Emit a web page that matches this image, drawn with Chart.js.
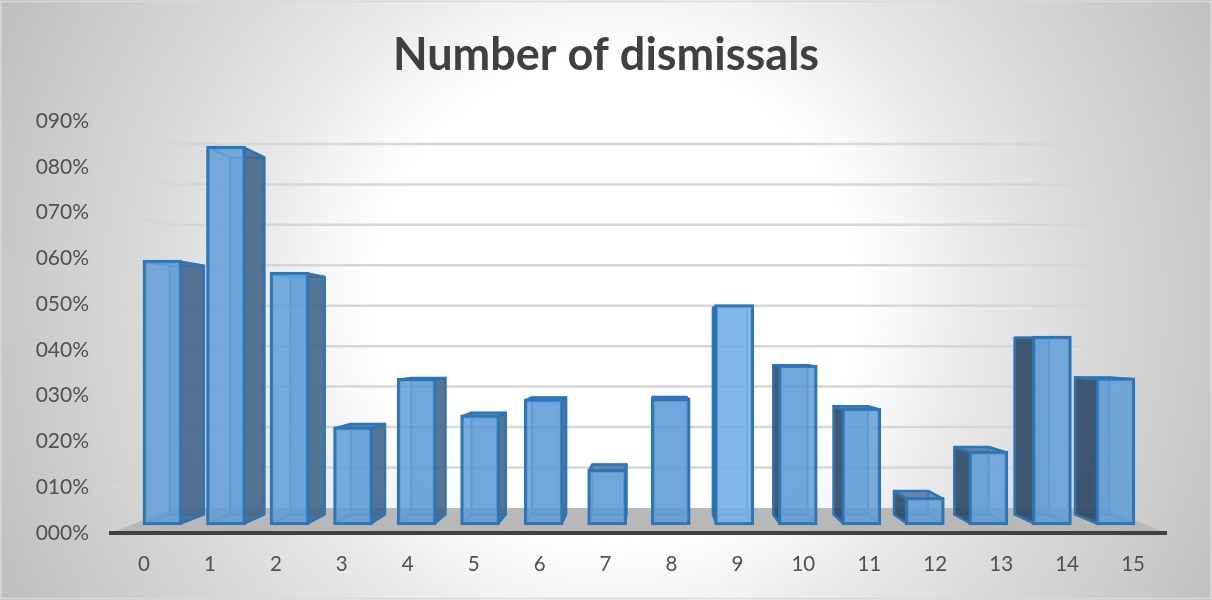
<!DOCTYPE html>
<html>
<head>
<meta charset="utf-8">
<title>Number of dismissals</title>
<script src="https://cdn.jsdelivr.net/npm/chart.js@4"></script>
<style>
  html, body { margin: 0; padding: 0; background: #fff; }
  canvas { display: block; }
</style>
</head>
<body>
<canvas id="barChart" width="1212" height="600"></canvas>
<script>
const categories = ['0','1','2','3','4','5','6','7','8','9','10','11','12','13','14','15'];
const dismissals = [59.6,84.5,57.0,23.2,33.8,25.8,29.3,13.9,29.4,49.9,36.7,27.3,7.8,17.9,43.0,33.9];
const yTickLabels = ['000%','010%','020%','030%','040%','050%','060%','070%','080%','090%'];

// the bars stand a little way back on the floor, so they start above the axis line
const floorValue = 1.75;

// perspective used for the fake 3D: bars have a short depth, the wall is further back
const barView = { x: 650, y: 342, s: 0.95 };
const wallView = { x: 650, y: 318, s: 0.8835 };

function project(view, x, y) {
  return [view.x + (x - view.x) * view.s, view.y + (y - view.y) * view.s];
}

function poly(ctx, pts, fill, stroke, lineWidth) {
  ctx.beginPath();
  pts.forEach((p, i) => i ? ctx.lineTo(p[0], p[1]) : ctx.moveTo(p[0], p[1]));
  ctx.closePath();
  if (fill) { ctx.fillStyle = fill; ctx.fill(); }
  if (stroke) { ctx.strokeStyle = stroke; ctx.lineWidth = lineWidth; ctx.stroke(); }
}

const backdrop = {
  id: 'backdrop',
  // the title is centred on the whole canvas, not on the padded layout
  afterLayout(chart) {
    chart.titleBlock.left = 0;
    chart.titleBlock.right = chart.width;
  },
  beforeDraw(chart) {
    const ctx = chart.ctx;
    const g = ctx.createRadialGradient(615, 300, 240, 615, 300, 690);
    g.addColorStop(0, '#ffffff');
    g.addColorStop(0.133, '#f5f5f5');
    g.addColorStop(0.256, '#eaeaea');
    g.addColorStop(0.533, '#d8d8d8');
    g.addColorStop(0.733, '#cdcdcd');
    g.addColorStop(0.933, '#c1c1c1');
    g.addColorStop(1, '#bdbdbd');
    ctx.save();
    ctx.fillStyle = g;
    ctx.fillRect(0, 0, chart.width, chart.height);
    ctx.strokeStyle = '#d9d9d9';
    ctx.lineWidth = 1.5;
    ctx.strokeRect(1, 1.5, chart.width - 2, chart.height - 3);
    ctx.restore();
  }
};

// floor and wall gridlines, driven by the value scale
const room = {
  id: 'room',
  beforeDraw(chart) {
    const ctx = chart.ctx;
    const { left, right } = chart.chartArea;
    const yScale = chart.scales.y;
    const y0 = yScale.getPixelForValue(0);
    ctx.save();
    poly(ctx, [[left, y0], [right, y0], project(wallView, right, y0), project(wallView, left, y0)], '#b8b8b8');
    ctx.lineWidth = 2.5;
    ctx.strokeStyle = '#d6d6d6';
    yScale.ticks.forEach(t => {
      if (t.value === 0) return;
      const y = yScale.getPixelForValue(t.value);
      const a = project(wallView, left, y);
      const b = project(wallView, right, y);
      ctx.beginPath();
      ctx.moveTo(left, y);
      ctx.lineTo(a[0], a[1]);
      ctx.lineTo(b[0], b[1]);
      ctx.stroke();
    });
    ctx.restore();
  }
};

// depth faces behind each bar; the front face is the bar element itself
const depth = {
  id: 'depth',
  beforeDatasetsDraw(chart) {
    const ctx = chart.ctx;
    const edge = '#2e75b6';
    const inner = '#5b9bd5';
    ctx.save();
    ctx.lineJoin = 'round';
    chart.getDatasetMeta(0).data.forEach(bar => {
      const l = bar.x - bar.width / 2 + 1.5;
      const r = bar.x + bar.width / 2 - 1.5;
      const t = bar.y + 1.5;
      const b = bar.base - 1.5;
      const tl = project(barView, l, t), tr = project(barView, r, t);
      const bl = project(barView, l, b), br = project(barView, r, b);

      poly(ctx, [tl, tr, br, bl], 'rgba(91,155,213,0.35)', inner, 2);
      ctx.strokeStyle = inner;
      ctx.lineWidth = 2;
      [[[l, b], bl], [[r, b], br], [[l, t], tl], [[r, t], tr]].forEach(seg => {
        ctx.beginPath();
        ctx.moveTo(seg[0][0], seg[0][1]);
        ctx.lineTo(seg[1][0], seg[1][1]);
        ctx.stroke();
      });

      if (tr[0] > r + 0.5) {
        poly(ctx, [[r, t], tr, br, [r, b]], 'rgba(60,95,130,0.82)', edge, 2.5);
      }
      if (tl[0] < l - 0.5) {
        poly(ctx, [[l, t], tl, bl, [l, b]], 'rgba(40,66,92,0.84)', edge, 2.5);
      }
      if (tl[1] < t - 0.5) {
        poly(ctx, [[l, t], tl, tr, [r, t]], 'rgba(60,100,140,0.68)', edge, 2.5);
      }
    });
    ctx.restore();
  }
};

new Chart(document.getElementById('barChart'), {
  type: 'bar',
  data: {
    labels: categories,
    datasets: [{
      label: 'Number of dismissals',
      data: dismissals.map((v, i) => ({ x: i, y: v })),
      xAxisID: 'xBars',
      base: floorValue,
      barThickness: 39,
      // bar 9 catches the light
      backgroundColor: c => c.dataIndex === 9 ? 'rgba(118,176,232,0.85)' : 'rgba(91,155,213,0.82)',
      borderColor: '#2e75b6',
      borderWidth: 3,
      borderSkipped: false
    }]
  },
  options: {
    responsive: false,
    animation: false,
    layout: { padding: { right: 46 } },
    plugins: {
      legend: { display: false },
      tooltip: { enabled: false },
      title: {
        display: true,
        text: 'Number of dismissals',
        color: '#404040',
        font: { family: 'Lato', size: 45, weight: 'bold', lineHeight: 1.2 },
        padding: { top: 28, bottom: 39 }
      }
    },
    scales: {
      // tick labels sit on the front edge of the floor, wider apart than the bars
      x: {
        type: 'category',
        offset: true,
        grid: { display: false, drawTicks: false },
        border: { display: true, color: '#404040', width: 4 },
        ticks: { color: '#505050', font: { family: 'Lato', size: 20.5 }, padding: 19, maxRotation: 0, autoSkip: false },
        afterFit(scale) { scale.height = 67; }
      },
      xBars: {
        type: 'linear',
        display: false,
        offset: false,
        position: 'bottom',
        min: -0.81,
        max: 15.796
      },
      y: {
        min: 0,
        max: 90,
        grid: { display: false, drawTicks: false },
        border: { display: false },
        ticks: {
          stepSize: 10,
          color: '#505050',
          font: { family: 'Lato', size: 21 },
          padding: 22,
          callback: (v, i) => yTickLabels[i]
        },
        afterFit(scale) { scale.width = 111; }
      }
    }
  },
  plugins: [backdrop, room, depth]
});
</script>
</body>
</html>
